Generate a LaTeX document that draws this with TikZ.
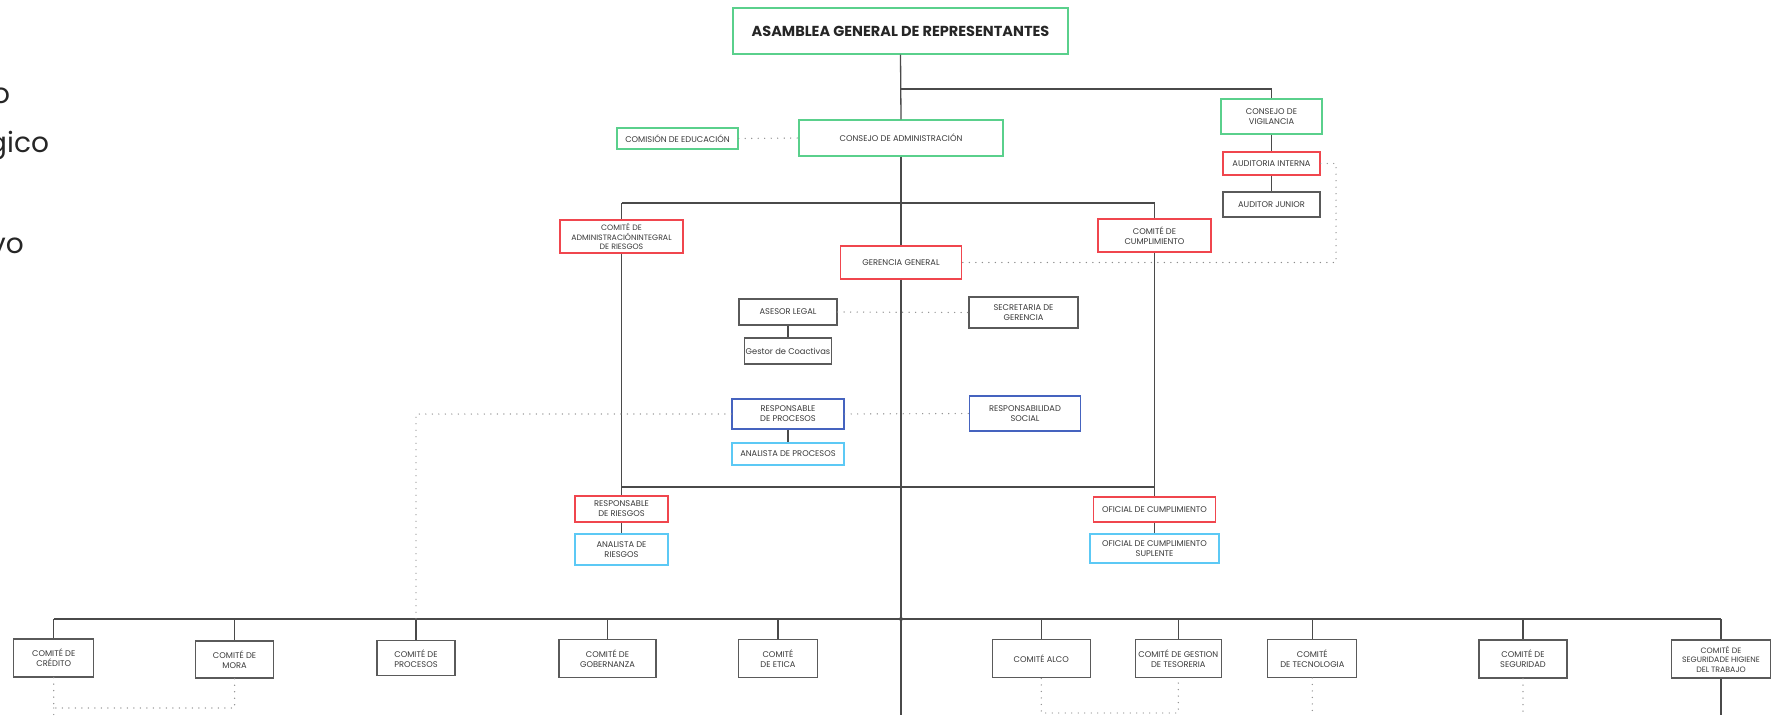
\documentclass[tikz,border=0pt]{standalone}
\usepackage{fontspec}
\setmainfont{Poppins}
\definecolor{txt}{HTML}{3A3A3A}
\definecolor{grn}{HTML}{5AD08C}
\definecolor{rd}{HTML}{F0464E}
\definecolor{dblue}{HTML}{4563BF}
\definecolor{lblue}{HTML}{5CC9F5}
\definecolor{gbord}{HTML}{5A5A5A}
\definecolor{conn}{HTML}{4A4A4A}
\definecolor{dots}{HTML}{8C8C8C}
\tikzset{
  unitbox/.style={draw=#1, line width=1.4pt, fill=white, inner sep=1pt, align=center,
    text=txt, font=\fontsize{8.3}{10}\selectfont},
  greenbox/.style={unitbox=grn},
  redbox/.style={unitbox=rd},
  bluebox/.style={unitbox=dblue},
  cyanbox/.style={unitbox=lblue},
  graybox/.style={unitbox=gbord, line width=1.3pt},
  sz/.style 2 args={minimum width=#1pt, minimum height=#2pt},
  link/.style={draw=conn, line width=1.3pt},
  dotlink/.style={draw=dots, line width=1.4pt, line cap=round, dash pattern=on 0pt off 6.5pt},
  frag/.style={anchor=west, inner sep=0pt, text=black!85, font=\fontsize{28}{30}\selectfont}
}
\begin{document}
\begin{tikzpicture}[x=1pt, y=-1pt]
\clip (0,0) rectangle (1774,715);
\fill[white] (0,0) rectangle (1774,715);

% legend words running off the left edge
\node[frag] (fa) at (-8,96) {o};
\node[frag] (fb) at (-12,146) {gico};
\node[frag] (fc) at (-10,246) {vo};

% governing bodies
\node[greenbox, sz={335}{46}, font=\fontsize{14.5}{16}\selectfont\bfseries, text=black!85] (asamblea) at (900.5,31) {ASAMBLEA GENERAL DE REPRESENTANTES};
\node[greenbox, sz={204}{36}] (consejo) at (901,138) {CONSEJO DE ADMINISTRACIÓN};
\node[greenbox, sz={121}{21}] (comision) at (677.5,138.5) {COMISIÓN DE EDUCACIÓN};
\node[greenbox, sz={101}{35}] (vigilancia) at (1271.5,116.5) {CONSEJO DE\\VIGILANCIA};
\node[redbox, sz={97}{23}] (auditoria) at (1271.5,163.5) {AUDITORIA INTERNA};
\node[graybox, sz={97}{25}] (junior) at (1271.5,204.5) {AUDITOR JUNIOR};

% committees under the board
\node[redbox, sz={123}{33}, font=\fontsize{7.8}{9.5}\selectfont] (integral) at (621.5,236.5) {COMITÉ DE\\ADMINISTRACIÓNINTEGRAL\\DE RIESGOS};
\node[redbox, sz={113}{33}] (cumpl) at (1154.5,235.5) {COMITÉ DE\\CUMPLIMIENTO};
\node[redbox, sz={121}{33}] (gerencia) at (901,262.5) {GERENCIA GENERAL};

% management staff
\node[graybox, sz={98}{26}] (asesor) at (788,312) {ASESOR LEGAL};
\node[graybox, sz={81}{26}] (gestor) at (788,351) {Gestor de Coactivas};
\node[graybox, sz={109}{31}] (secretaria) at (1023.5,312.5) {SECRETARIA DE\\GERENCIA};
\node[bluebox, sz={112}{30}] (respproc) at (788,414) {RESPONSABLE\\DE PROCESOS};
\node[cyanbox, sz={112}{22}] (analproc) at (788,454) {ANALISTA DE PROCESOS};
\node[bluebox, sz={111}{35}] (social) at (1025,413.5) {RESPONSABILIDAD\\SOCIAL};

% risk and compliance officers
\node[redbox, sz={93}{26}] (respriesg) at (621.5,509) {RESPONSABLE\\DE RIESGOS};
\node[cyanbox, sz={93}{31}] (analriesg) at (621.5,549.5) {ANALISTA DE\\RIESGOS};
\node[redbox, sz={122}{25}] (oficial) at (1154.5,509.3) {OFICIAL DE CUMPLIMIENTO};
\node[cyanbox, sz={129}{29}] (suplente) at (1154.5,548.6) {OFICIAL DE CUMPLIMIENTO\\SUPLENTE};

% operating committees
\node[graybox, sz={80}{38}] (credito) at (53.75,658) {COMITÉ DE\\CRÉDITO};
\node[graybox, sz={78}{37}] (mora) at (234.6,659.5) {COMITÉ DE\\MORA};
\node[graybox, sz={78}{35}] (procesos) at (416,658.3) {COMITÉ DE\\PROCESOS};
\node[graybox, sz={97}{38}] (gobernanza) at (607.5,658.7) {COMITÉ DE\\GOBERNANZA};
\node[graybox, sz={79}{38}] (etica) at (778,658.7) {COMITÉ\\DE ETICA};
\node[graybox, sz={98}{38}] (alco) at (1041.3,658.8) {COMITÉ ALCO};
\node[graybox, sz={86}{38}] (tesoreria) at (1178.3,658.8) {COMITÉ DE GESTION\\DE TESORERIA};
\node[graybox, sz={89}{38}] (tecnologia) at (1312.3,658.3) {COMITÉ\\DE TECNOLOGIA};
\node[graybox, sz={88}{38}] (seguridad) at (1523,659) {COMITÉ DE\\SEGURIDAD};
\node[graybox, sz={99}{38}, font=\fontsize{7.8}{9.5}\selectfont] (higiene) at (1721,659) {COMITÉ DE\\SEGURIDADE HIGIENE\\DEL TRABAJO};

% junction points
\coordinate (jv) at (901,89);
\coordinate (tl) at (621.5,203);
\coordinate (tr) at (1154.5,203);
\coordinate (ml) at (621.5,487);
\coordinate (mr) at (1154.5,487);
\coordinate (busl) at (53.75,619);
\coordinate (busr) at (1721,619);
\coordinate (busm) at (901,619);
\coordinate (bottom) at (901,715);
\coordinate (hb) at (1721,715);
\coordinate (dq1) at (1336,163.5);
\coordinate (dq2) at (1336,262.5);
\coordinate (dp) at (416,414);
\coordinate (dpb) at (416,619);
\coordinate (dc1) at (53.75,708);
\coordinate (dc2) at (234.6,708);
\coordinate (dcb) at (53.75,715);
\coordinate (da1) at (1041.3,713);
\coordinate (da2) at (1178.3,713);
\coordinate (dtb) at (1312.3,715);
\coordinate (dsb) at (1523,715);

% solid reporting lines
\draw[link] (asamblea.south) -- (consejo.north);
\draw[link] (jv) -| (vigilancia.north);
\draw[link] (vigilancia.south) -- (auditoria.north);
\draw[link] (auditoria.south) -- (junior.north);
\draw[link] (consejo.south) -- (gerencia.north);
\draw[link] (tl) -- (tr);
\draw[link] (tl) -- (integral.north);
\draw[link] (tr) -- (cumpl.north);
\draw[link] (integral.south) -- (respriesg.north);
\draw[link] (cumpl.south) -- (oficial.north);
\draw[link] (respriesg.south) -- (analriesg.north);
\draw[link] (oficial.south) -- (suplente.north);
\draw[link] (ml) -- (mr);
\draw[link] (gerencia.south) -- (bottom);
\draw[link] (asesor.south) -- (gestor.north);
\draw[link] (respproc.south) -- (analproc.north);
\draw[link] (busl) -- (busr);
\fill[conn] (busm) circle (2pt);
\foreach \n in {credito,mora,procesos,gobernanza,etica,alco,tesoreria,tecnologia,seguridad,higiene}
  \draw[link] (\n.north |- busl) -- (\n.north);
\draw[link] (higiene.south) -- (hb);

% dotted advisory lines
\draw[dotlink] (comision.east) -- (consejo.west);
\draw[dotlink] (auditoria.east) -- (dq1) -- (dq2) -- (gerencia.east);
\draw[dotlink] (asesor.east) -- (secretaria.west);
\draw[dotlink] (respproc.east) -- (social.west);
\draw[dotlink] (respproc.west) -- (dp) -- (dpb);
\draw[dotlink] (credito.south) -- (dc1) -- (dc2) -- (mora.south);
\draw[dotlink] (dc1) -- (dcb);
\draw[dotlink] (alco.south) -- (da1) -- (da2) -- (tesoreria.south);
\draw[dotlink] (tecnologia.south) -- (dtb);
\draw[dotlink] (seguridad.south) -- (dsb);
\end{tikzpicture}
\end{document}
